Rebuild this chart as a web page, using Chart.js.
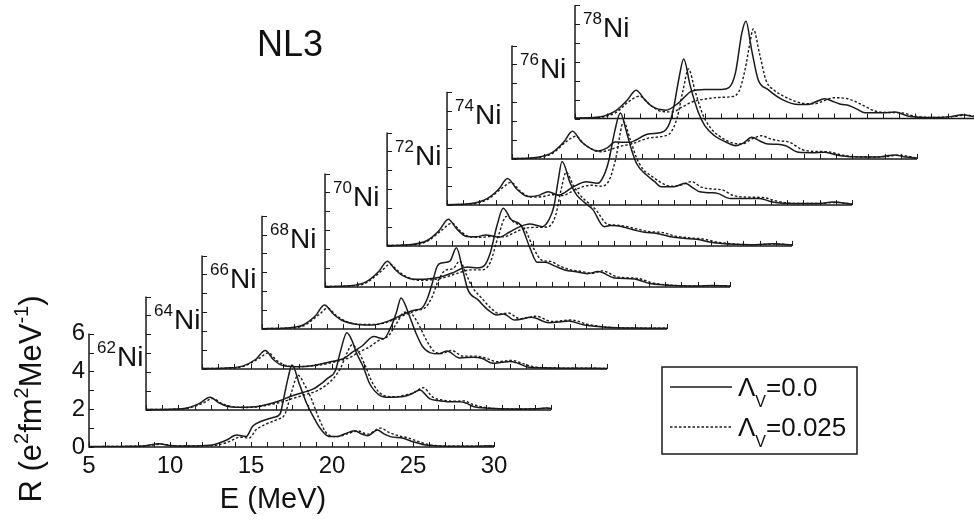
<!DOCTYPE html>
<html>
<head>
<meta charset="utf-8">
<script src="https://cdn.jsdelivr.net/npm/chart.js@4.4.1/dist/chart.umd.min.js"></script>
<style>
  html, body { margin: 0; padding: 0; background: #fff; }
  #wrap { width: 974px; height: 523px; }
</style>
</head>
<body>
<div id="wrap"><canvas id="chart" width="974" height="523"></canvas></div>
<script>
// nuclei from the front (bottom) panel to the back (top) panel
const nuclei = ['62', '64', '66', '68', '70', '72', '74', '76', '78'];
// waterfall shift of every panel, in MeV along E and in units of R
const shiftE = [0, 3.52, 6.98, 10.68, 14.57, 18.40, 22.10, 26.11, 30.0];
const shiftR = [0, 1.96, 4.13, 6.24, 8.47, 10.64, 12.80, 15.24, 17.38];

const xTickLabels = [5, 10, 15, 20, 25, 30];
const yTickLabels = [0, 2, 4, 6];
const legendLabels = ['0.0', '0.025'];

// [E (MeV), R], solid = Lambda_V 0.0, dotted = Lambda_V 0.025
const solid62 = [[5,0.02],[7,0.03],[8.5,0.07],[9.3,0.17],[10,0.08],[11,0.05],[12,0.07],[12.7,0.12],[13.5,0.37],[14.1,0.63],[14.7,0.55],[15.1,1.1],[15.6,1.35],[16.4,1.57],[16.8,1.76],[17.0,2.5],[17.3,3.7],[17.53,4.34],[18.0,3.3],[18.44,2.3],[18.85,1.6],[19.26,1.0],[19.8,0.56],[20.3,0.55],[20.8,0.7],[21.4,0.86],[21.8,0.7],[22.2,0.6],[22.8,0.9],[23.2,0.7],[23.6,0.55],[24.4,0.46],[25.0,0.28],[25.8,0.1],[27,0.04],[29,0.04],[29.8,0.07],[30,0.05]];
const dotted62 = [[5,0.02],[7,0.03],[8.5,0.06],[9.5,0.15],[10.2,0.07],[11,0.05],[12,0.06],[12.9,0.1],[13.7,0.3],[14.3,0.52],[14.9,0.48],[15.3,0.9],[15.9,1.2],[16.6,1.45],[17.1,1.75],[17.5,2.9],[17.9,3.8],[18.3,3.3],[18.7,2.6],[19.2,1.5],[19.7,0.7],[20.3,0.55],[20.9,0.68],[21.6,0.85],[22.2,0.68],[23.0,1.0],[23.5,0.78],[24.1,0.6],[24.7,0.48],[25.3,0.3],[26.0,0.12],[27,0.05],[29,0.04],[29.9,0.06],[30,0.05]];

const solid64 = [[5,0.02],[6.5,0.04],[7.5,0.1],[8.3,0.35],[8.95,0.67],[9.5,0.38],[10,0.2],[10.8,0.14],[12,0.2],[13.3,0.5],[13.9,0.71],[14.6,0.9],[15.3,1.1],[15.9,1.45],[16.2,1.67],[16.7,2.1],[17.0,3.1],[17.4,4.08],[17.7,3.7],[18.0,3.0],[18.4,2.3],[18.8,1.4],[19.4,0.79],[20.0,0.67],[20.9,0.71],[21.5,0.9],[21.9,1.06],[22.5,0.6],[23.0,0.5],[23.6,0.44],[24.4,0.44],[24.8,0.35],[25.2,0.18],[26.2,0.09],[27.5,0.05],[29,0.06],[29.7,0.1],[30,0.08]];
const dotted64 = [[5,0.02],[6.5,0.03],[7.5,0.08],[8.5,0.35],[9.1,0.6],[9.7,0.33],[10.3,0.18],[11,0.13],[12,0.18],[13.5,0.45],[14.1,0.62],[14.8,0.8],[15.5,1.0],[16.1,1.3],[16.6,1.7],[17.0,2.2],[17.4,3.0],[17.7,3.44],[18.1,3.1],[18.5,2.4],[19.0,1.4],[19.6,0.8],[20.3,0.7],[21.0,0.78],[21.6,0.95],[22.1,1.18],[22.7,0.68],[23.3,0.52],[24.0,0.46],[24.6,0.48],[25.2,0.28],[26.0,0.12],[27.5,0.05],[29,0.05],[29.8,0.09],[30,0.07]];

const solid66 = [[5,0.02],[6.5,0.05],[7.5,0.15],[8.3,0.5],[8.9,0.97],[9.4,0.5],[9.9,0.2],[10.7,0.12],[12.0,0.2],[12.8,0.35],[13.8,0.58],[14.3,0.9],[14.86,1.2],[15.6,1.71],[16.2,1.6],[16.7,2.3],[17.0,3.0],[17.28,3.76],[17.8,2.8],[18.2,1.9],[18.6,1.2],[19.1,0.85],[19.6,0.8],[20.1,0.95],[20.9,0.58],[21.75,0.62],[22.3,0.55],[22.96,0.3],[23.5,0.35],[24.0,0.4],[24.5,0.3],[25.04,0.12],[26,0.06],[28,0.04],[30,0.03]];
const dotted66 = [[5,0.02],[6.5,0.04],[7.5,0.12],[8.5,0.55],[9.1,0.85],[9.6,0.45],[10.2,0.18],[11,0.12],[12.2,0.2],[13.2,0.38],[14.1,0.6],[14.7,0.9],[15.3,1.15],[15.9,1.5],[16.5,1.75],[17.0,2.4],[17.5,3.0],[18.0,2.85],[18.4,2.3],[18.8,1.6],[19.3,0.95],[19.8,0.82],[20.4,0.98],[21.1,0.68],[21.9,0.68],[22.5,0.58],[23.2,0.38],[24.1,0.45],[24.7,0.32],[25.3,0.14],[26.3,0.06],[28,0.04],[30,0.03]];

const solid68 = [[5,0.02],[6.5,0.06],[7.5,0.2],[8.3,0.7],[8.85,1.27],[9.4,0.8],[9.9,0.48],[10.7,0.27],[11.7,0.21],[12.8,0.42],[13.5,0.7],[14.4,1.0],[14.86,1.1],[15.2,1.6],[15.5,2.4],[15.8,3.3],[16.1,3.5],[16.6,3.6],[17.0,4.3],[17.4,3.1],[17.7,2.1],[18.35,1.53],[18.97,1.0],[19.5,0.75],[19.9,0.8],[20.6,0.48],[21.65,0.62],[22.7,0.34],[23.4,0.38],[23.9,0.43],[24.9,0.21],[26.2,0.1],[28,0.05],[30,0.04]];
const dotted68 = [[5,0.02],[6.5,0.05],[7.5,0.15],[8.5,0.75],[9.05,1.1],[9.6,0.7],[10.2,0.4],[11,0.25],[12,0.24],[13,0.45],[13.8,0.75],[14.6,1.0],[15.1,1.15],[15.5,1.7],[15.9,2.6],[16.3,3.1],[16.8,3.2],[17.2,3.6],[17.6,2.9],[18.0,2.2],[18.6,1.6],[19.2,1.05],[19.7,0.8],[20.2,0.85],[20.9,0.55],[21.9,0.68],[22.9,0.4],[24.1,0.48],[25.1,0.25],[26.3,0.1],[28,0.05],[30,0.04]];

const solid70 = [[5,0.02],[6.5,0.06],[7.5,0.25],[8.3,0.8],[8.85,1.36],[9.3,0.95],[9.75,0.62],[10.5,0.4],[11.3,0.42],[12.0,0.5],[12.8,0.72],[13.8,1.05],[14.4,1.0],[14.8,1.1],[15.2,1.8],[15.6,3.2],[16.0,4.16],[16.5,3.55],[17.1,3.25],[17.65,2.06],[18.1,1.3],[18.6,1.3],[19.2,1.1],[19.8,0.9],[20.5,0.8],[21.2,0.7],[21.85,0.81],[22.9,0.47],[24.1,0.42],[24.6,0.3],[25.0,0.19],[26.0,0.1],[28.0,0.05],[28.9,0.08],[30,0.05]];
const dotted70 = [[5,0.02],[6.5,0.05],[7.5,0.2],[8.5,0.85],[9.0,1.2],[9.5,0.85],[10,0.55],[10.8,0.35],[11.6,0.38],[12.3,0.48],[13.1,0.7],[14.0,0.9],[14.7,0.9],[15.2,1.3],[15.7,2.7],[16.2,3.73],[16.7,3.4],[17.3,3.1],[17.9,2.0],[18.4,1.4],[18.9,1.35],[19.5,1.1],[20.1,0.92],[20.8,0.82],[21.5,0.72],[22.1,0.85],[23.1,0.52],[24.3,0.45],[25.2,0.22],[26.2,0.1],[28,0.05],[29,0.07],[30,0.05]];

const solid72 = [[5,0.02],[6.5,0.07],[7.5,0.3],[8.2,0.8],[8.78,1.41],[9.3,0.9],[9.9,0.5],[10.5,0.48],[11.1,0.58],[11.9,0.46],[12.6,0.75],[13.2,1.02],[13.8,1.16],[14.6,1.02],[15.0,1.4],[15.3,2.1],[15.55,3.4],[15.8,4.46],[16.3,3.33],[16.7,2.7],[17.1,2.36],[17.7,1.92],[18.4,1.02],[18.8,1.08],[19.2,1.07],[20.2,0.85],[20.9,0.72],[21.6,0.67],[22.5,0.49],[23.3,0.4],[24.1,0.35],[25.1,0.18],[26.1,0.1],[27.5,0.06],[28.8,0.12],[30,0.05]];
const dotted72 = [[5,0.02],[6.5,0.06],[7.5,0.25],[8.4,0.85],[9.0,1.2],[9.5,0.8],[10.1,0.48],[10.8,0.45],[11.4,0.5],[12.2,0.48],[12.9,0.72],[13.6,0.95],[14.3,0.98],[14.9,1.0],[15.4,1.6],[15.75,3.0],[16.05,3.9],[16.5,3.2],[17.0,2.6],[17.4,2.3],[17.9,1.9],[18.6,1.15],[19.1,1.1],[19.6,1.05],[20.5,0.88],[21.3,0.74],[21.9,0.72],[22.8,0.52],[23.7,0.42],[24.4,0.38],[25.4,0.2],[26.4,0.1],[27.8,0.06],[29,0.1],[30,0.05]];

const solid74 = [[5,0.02],[6.5,0.08],[7.5,0.35],[8.2,0.85],[8.73,1.41],[9.3,0.85],[10.0,0.45],[10.6,0.5],[11.25,0.7],[11.9,0.53],[12.8,0.97],[13.6,1.23],[14.3,1.15],[14.7,1.6],[15.0,2.4],[15.35,3.9],[15.7,4.87],[16.1,3.8],[16.4,2.9],[16.7,2.2],[17.3,1.6],[17.8,1.25],[18.2,0.97],[19.0,0.97],[19.7,1.15],[20.2,0.9],[20.6,0.7],[21.3,0.65],[21.7,0.62],[22.5,0.35],[23.5,0.35],[24.3,0.35],[25.1,0.16],[26.5,0.08],[28.0,0.08],[28.8,0.16],[30,0.05]];
const dotted74 = [[5,0.02],[6.5,0.06],[7.5,0.3],[8.4,0.9],[8.95,1.2],[9.5,0.75],[10.2,0.42],[10.9,0.45],[11.5,0.55],[12.1,0.5],[13.0,0.85],[13.9,1.05],[14.5,1.0],[15.0,1.3],[15.4,2.4],[15.9,4.4],[16.3,3.5],[16.7,2.5],[17.1,1.9],[17.6,1.55],[18.2,1.2],[18.8,1.0],[19.4,1.05],[20.1,1.24],[20.7,0.95],[21.4,0.85],[22.0,0.8],[22.7,0.5],[23.6,0.42],[24.5,0.4],[25.4,0.2],[26.6,0.08],[28,0.08],[29,0.14],[30,0.05]];

const solid76 = [[5,0.02],[6.5,0.08],[7.5,0.35],[8.2,0.9],[8.73,1.46],[9.3,0.9],[10.3,0.42],[10.9,0.6],[11.36,0.9],[12.2,0.88],[13.4,1.32],[14.2,1.4],[14.5,1.55],[14.75,1.94],[15.0,2.8],[15.3,4.23],[15.6,5.29],[16.0,3.88],[16.5,2.47],[16.9,1.76],[17.5,1.23],[18.2,0.9],[18.8,0.7],[19.3,0.85],[19.8,1.15],[20.3,0.95],[20.8,0.79],[21.4,0.78],[21.9,0.7],[22.7,0.35],[23.5,0.33],[24.3,0.35],[25.2,0.18],[26.5,0.1],[27.8,0.12],[28.6,0.21],[29.3,0.1],[30,0.05]];
const dotted76 = [[5,0.02],[6.5,0.06],[7.5,0.3],[8.4,0.95],[8.95,1.2],[9.5,0.75],[10.5,0.38],[11.1,0.5],[11.6,0.65],[12.4,0.8],[13.4,1.1],[14.3,1.2],[14.8,1.4],[15.2,2.2],[15.55,3.6],[15.9,4.76],[16.3,3.6],[16.8,2.3],[17.3,1.6],[17.9,1.15],[18.6,0.85],[19.2,0.8],[19.8,1.05],[20.4,1.23],[21.0,1.05],[21.6,0.95],[22.1,0.9],[22.9,0.5],[23.7,0.4],[24.5,0.38],[25.4,0.2],[26.7,0.1],[28,0.12],[28.9,0.2],[30,0.05]];

const solid78 = [[5,0.02],[6.5,0.08],[7.5,0.4],[8.2,0.95],[8.77,1.5],[9.3,1.0],[9.73,0.65],[10.6,0.44],[11.4,0.83],[12.2,1.45],[13.0,1.54],[14.05,1.54],[14.5,1.63],[14.9,2.4],[15.3,4.53],[15.55,5.15],[15.9,3.65],[16.3,2.07],[16.9,1.54],[17.8,1.0],[18.8,0.74],[19.4,0.74],[19.9,0.9],[20.4,1.04],[21.0,0.88],[21.4,0.75],[21.9,0.69],[22.4,0.5],[22.9,0.3],[24.0,0.3],[24.75,0.34],[25.6,0.12],[27,0.05],[28.2,0.1],[28.9,0.2],[29.5,0.12],[30,0.1]];
const dotted78 = [[5,0.02],[6.5,0.06],[7.5,0.3],[8.4,0.95],[9.0,1.18],[9.6,0.75],[10.3,0.38],[11.0,0.35],[11.6,0.6],[12.3,0.9],[13.2,1.05],[14.0,1.12],[14.6,1.15],[15.1,1.4],[15.5,2.6],[15.8,4.0],[16.0,4.74],[16.4,3.4],[16.8,2.0],[17.3,1.5],[18.2,1.05],[19.1,0.8],[19.8,0.78],[20.4,0.95],[21.0,1.1],[21.6,1.08],[22.0,1.0],[22.5,0.82],[22.9,0.65],[23.5,0.4],[24.4,0.32],[25.2,0.3],[25.9,0.14],[27,0.06],[28.3,0.1],[29.1,0.18],[30,0.08]];

const solidCurves = [solid62, solid64, solid66, solid68, solid70, solid72, solid74, solid76, solid78];
const dottedCurves = [dotted62, dotted64, dotted66, dotted68, dotted70, dotted72, dotted74, dotted76, dotted78];

const E_MIN = 5, E_MAX = 30, R_MAX = 6;
const INK = '#1a1a1a';
const FONT = '"Liberation Sans", Arial, sans-serif';
const solidStyle = { borderColor: INK, borderWidth: 1.5, borderDash: [] };
const dottedStyle = { borderColor: INK, borderWidth: 1.4, borderDash: [2.5, 2] };

function shifted(curve, i) {
    return curve.map(([e, r]) => ({ x: e + shiftE[i], y: r + shiftR[i] }));
}

const datasets = [];
nuclei.forEach((n, i) => {
    datasets.push(Object.assign({ label: n + 'Ni 0.0', data: shifted(solidCurves[i], i) }, solidStyle));
    datasets.push(Object.assign({ label: n + 'Ni 0.025', data: shifted(dottedCurves[i], i) }, dottedStyle));
});

// panel frames, ticks and all the text of the figure
const figureDecor = {
    id: 'figureDecor',
    afterDatasetsDraw(chart) {
        const { ctx, scales: { x, y } } = chart;
        ctx.save();
        ctx.strokeStyle = INK;
        ctx.fillStyle = '#111';

        nuclei.forEach((n, i) => {
            const x0 = x.getPixelForValue(E_MIN + shiftE[i]);
            const x1 = x.getPixelForValue(E_MAX + shiftE[i]);
            const y0 = y.getPixelForValue(shiftR[i]);
            const y1 = y.getPixelForValue(R_MAX + shiftR[i]);

            ctx.lineWidth = 1.5;
            ctx.setLineDash([]);
            ctx.beginPath();
            ctx.moveTo(x0, y1);
            ctx.lineTo(x0, y0);
            ctx.lineTo(x1, y0);
            ctx.stroke();

            ctx.lineWidth = 1;
            ctx.beginPath();
            for (let e = E_MIN; e <= E_MAX; e++) {
                const px = Math.round(x.getPixelForValue(e + shiftE[i])) + 0.5;
                ctx.moveTo(px, y0);
                ctx.lineTo(px, y0 - 5);
            }
            for (let r = 0; r <= R_MAX; r++) {
                const py = Math.round(y.getPixelForValue(r + shiftR[i])) + 0.5;
                ctx.moveTo(x0, py);
                ctx.lineTo(x0 + 5, py);
            }
            ctx.stroke();

            // nucleus label
            ctx.textAlign = 'left';
            ctx.textBaseline = 'alphabetic';
            ctx.font = '17px ' + FONT;
            ctx.fillText(n, x0 + 8, y1 + 19);
            const w = ctx.measureText(n).width;
            ctx.font = '28px ' + FONT;
            ctx.fillText('Ni', x0 + 9 + w, y1 + 32);
        });

        // tick labels of the front panel
        ctx.font = '24px ' + FONT;
        ctx.textAlign = 'center';
        ctx.textBaseline = 'middle';
        xTickLabels.forEach(v => {
            ctx.fillText(String(v), x.getPixelForValue(v), y.getPixelForValue(0) + 19);
        });
        ctx.textAlign = 'right';
        yTickLabels.forEach(v => {
            ctx.fillText(String(v), x.getPixelForValue(E_MIN) - 4, y.getPixelForValue(v));
        });

        // axis titles
        ctx.textAlign = 'center';
        ctx.textBaseline = 'alphabetic';
        ctx.font = '29px ' + FONT;
        ctx.fillText('E (MeV)', 273, 508);

        ctx.save();
        ctx.translate(41, 399);
        ctx.rotate(-Math.PI / 2);
        const parts = [['R (e', 31, 0], ['2', 20, -13], ['fm', 31, 0], ['2', 20, -13], ['MeV', 31, 0], ['-1', 20, -13], [')', 31, 0]];
        let total = 0;
        parts.forEach(([t, s]) => { ctx.font = s + 'px ' + FONT; total += ctx.measureText(t).width; });
        let cx = -total / 2;
        ctx.textAlign = 'left';
        parts.forEach(([t, s, dy]) => {
            ctx.font = s + 'px ' + FONT;
            ctx.fillText(t, cx, dy);
            cx += ctx.measureText(t).width;
        });
        ctx.restore();

        // model name
        ctx.font = '36px ' + FONT;
        ctx.textAlign = 'center';
        ctx.fillText('NL3', 290, 56);

        // legend
        ctx.lineWidth = 1.5;
        ctx.setLineDash([]);
        ctx.strokeRect(662, 367, 195, 87);
        [solidStyle, dottedStyle].forEach((st, k) => {
            const ly = 387 + k * 40;
            ctx.lineWidth = st.borderWidth + 0.2;
            ctx.setLineDash(st.borderDash);
            ctx.beginPath();
            ctx.moveTo(670, ly);
            ctx.lineTo(732, ly);
            ctx.stroke();
            ctx.setLineDash([]);
            ctx.textAlign = 'left';
            ctx.font = '26px ' + FONT;
            ctx.fillText('\u039B', 738, ly + 9);
            const lw = ctx.measureText('\u039B').width;
            ctx.font = '16px ' + FONT;
            ctx.fillText('V', 738 + lw, ly + 20);
            const vw = ctx.measureText('V').width;
            ctx.font = '26px ' + FONT;
            ctx.fillText('=' + legendLabels[k], 738 + lw + vw, ly + 9);
        });
        ctx.restore();
    }
};

new Chart(document.getElementById('chart'), {
    type: 'scatter',
    data: { datasets: datasets },
    options: {
        responsive: false,
        animation: false,
        events: [],
        layout: { padding: { left: 89, right: 0, top: 0, bottom: 76 } },
        elements: {
            point: { radius: 0 },
            line: { cubicInterpolationMode: 'monotone', fill: false }
        },
        datasets: { scatter: { showLine: true } },
        scales: {
            x: { type: 'linear', min: E_MIN, max: E_MIN + 885 / 16.2, display: false },
            y: { type: 'linear', min: 0, max: 447 / 18.9, display: false }
        },
        plugins: { legend: { display: false }, tooltip: { enabled: false } }
    },
    plugins: [figureDecor]
});
</script>
</body>
</html>
